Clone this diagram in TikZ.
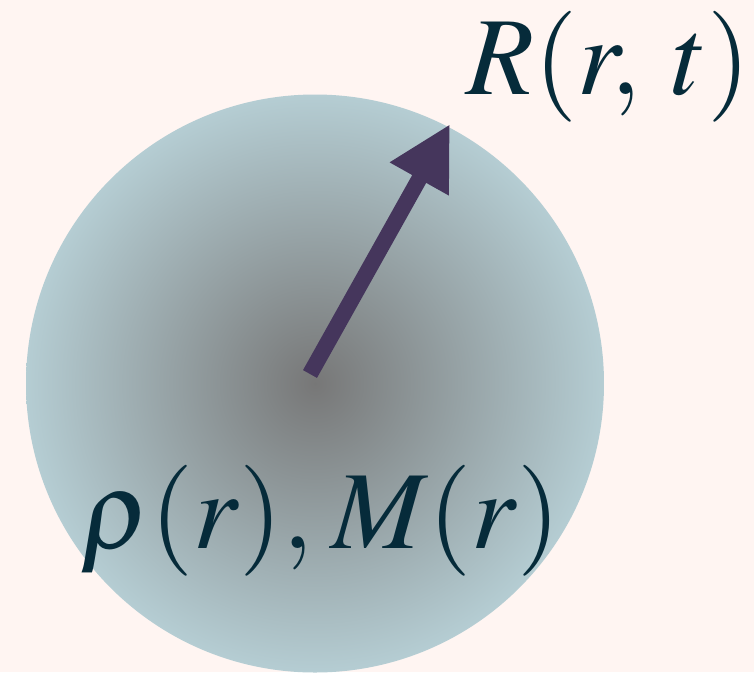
\documentclass[tikz,border=0pt]{standalone}
\usepackage{mathptmx}
\usetikzlibrary{arrows.meta}
\definecolor{bgc}{HTML}{FFF5F2}
\definecolor{edgec}{HTML}{B5CDD3}
\definecolor{centc}{HTML}{777777}
\definecolor{arrc}{HTML}{45365C}
\definecolor{txtc}{HTML}{062B3A}
\tikzset{
  lbl/.style={inner sep=0pt, anchor=base west, text=txtc, font=\fontsize{111}{130}\selectfont},
  vec/.style={draw=arrc, line width=16pt, -{Triangle[length=63pt,width=63pt]}}
}
\begin{document}
\begin{tikzpicture}[x=1pt,y=-1pt]
\fill[bgc] (0,0) rectangle (754,672);
\useasboundingbox (0,0) rectangle (754,672);
\node[circle, minimum size=578pt, inner sep=0pt, shade, inner color=centc, outer color=edgec] (ball) at (315,383.5) {};
\coordinate (tail) at (310,374);
\coordinate (tip) at (450,124);
\draw[vec] (tail) -- (tip);
\node[lbl] (rlab) at (466,94) {$R(r,\mkern3mu t)$};
\node[lbl] (mlab) at (80,548) {$\rho(r),\mkern1mu M(r)$};
\end{tikzpicture}
\end{document}
